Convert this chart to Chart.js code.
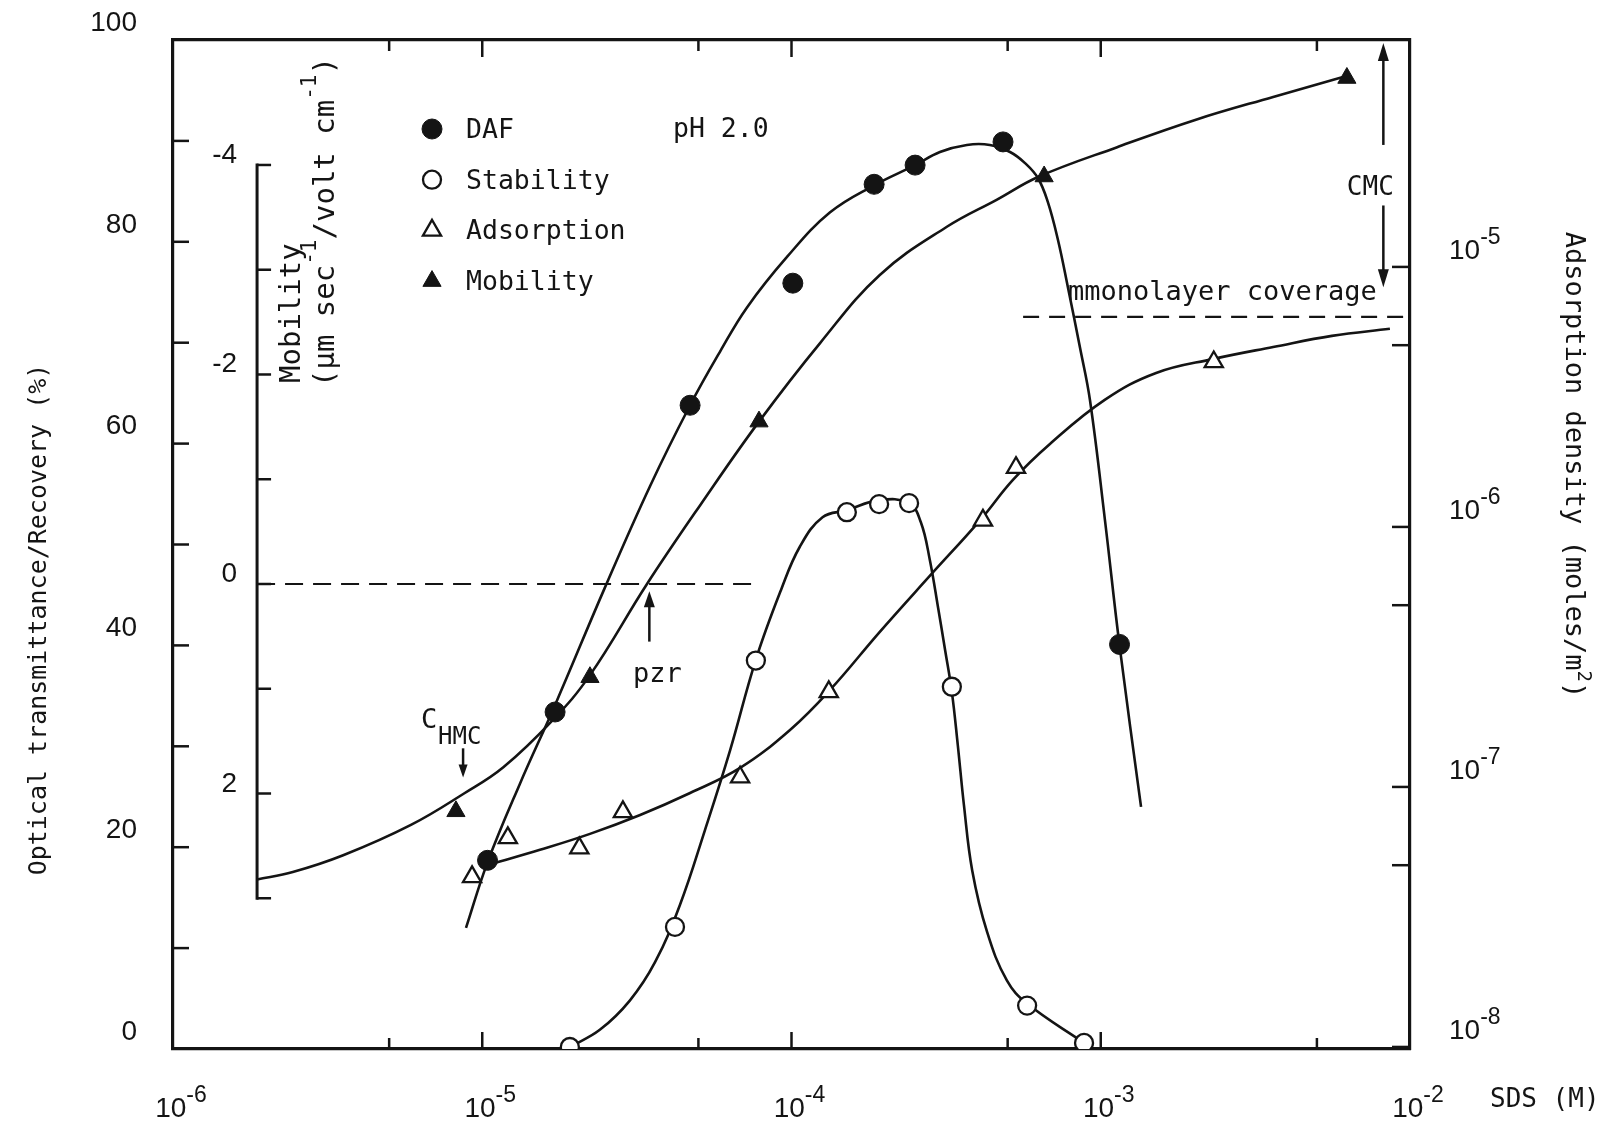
<!DOCTYPE html>
<html>
<head>
<meta charset="utf-8">
<title>SDS: DAF, stability, adsorption and mobility, pH 2.0</title>
<script src="https://cdn.jsdelivr.net/npm/chart.js@4/dist/chart.umd.min.js"></script>
<style>
  html, body { margin: 0; padding: 0; background: #fff; overflow: hidden; }
  canvas { display: block; }
</style>
</head>
<body>
<canvas id="c" width="1612" height="1126"></canvas>
<script>
// ---- measured points (x = SDS concentration, M) ----
const dafX  = [1.04e-5, 1.72e-5, 4.70e-5, 1.01e-4, 1.85e-4, 2.51e-4, 4.83e-4, 1.15e-3];
const dafY  = [18.7, 33.4, 63.8, 75.9, 85.7, 87.6, 89.9, 40.1];           // recovery, %
const stabX = [1.92e-5, 4.20e-5, 7.67e-5, 1.51e-4, 1.92e-4, 2.40e-4, 3.30e-4, 5.78e-4, 8.83e-4];
const stabY = [0.2, 12.1, 38.5, 53.2, 54.0, 54.1, 35.9, 4.3, 0.6];        // transmittance, %
const adsX  = [9.27e-6, 1.21e-5, 2.06e-5, 2.85e-5, 6.82e-5, 1.32e-4, 4.16e-4, 5.32e-4, 2.32e-3];
const adsY  = [4.51e-8, 6.37e-8, 5.82e-8, 8.02e-8, 1.09e-7, 2.32e-7, 1.06e-6, 1.69e-6, 4.31e-6]; // mol/m2
const mobX  = [8.22e-6, 2.23e-5, 7.85e-5, 6.56e-4, 6.25e-3];
const mobY  = [2.17, 0.89, -1.55, -3.89, -4.83];                          // um s-1 / V cm-1

// ---- hand-drawn trend curves ----
const dafCurveX = [8.86e-6, 1.04e-5, 1.32e-5, 1.72e-5, 2.49e-5, 3.49e-5, 4.70e-5, 5.87e-5, 7.18e-5, 9.67e-5,
                   1.33e-4, 1.85e-4, 2.51e-4, 3.02e-4, 3.69e-4, 4.38e-4, 5.09e-4, 5.69e-4, 6.27e-4, 6.75e-4,
                   7.27e-4, 7.83e-4, 8.57e-4, 9.23e-4, 1.032e-3, 1.15e-3, 1.35e-3];
const dafCurveY = [12.0, 18.5, 26.2, 34.1, 45.7, 55.8, 63.8, 69.1, 73.5, 78.5,
                   82.9, 85.6, 87.6, 88.9, 89.6, 89.6, 88.9, 87.8, 86.3, 83.9,
                   80.2, 75.5, 69.5, 64.3, 52.4, 40.0, 24.0];
const stabCurveX = [1.92e-5, 2.40e-5, 3.00e-5, 3.62e-5, 4.36e-5, 5.25e-5, 6.33e-5, 7.67e-5, 9.25e-5, 1.065e-4,
                    1.26e-4, 1.51e-4, 1.92e-4, 2.40e-4, 2.62e-4, 2.80e-4, 2.98e-4, 3.14e-4, 3.30e-4, 3.45e-4,
                    3.61e-4, 3.84e-4, 4.29e-4, 4.97e-4, 5.78e-4, 8.83e-4];
const stabCurveY = [0.2, 1.9, 4.8, 8.6, 14.3, 21.7, 29.6, 38.6, 45.5, 49.8,
                    52.7, 53.4, 54.4, 54.1, 52.2, 48.5, 43.7, 39.5, 35.4, 30.1,
                    24.2, 17.7, 11.6, 6.8, 4.5, 0.6];
const adsCurveX = [1.075e-5, 1.537e-5, 2.23e-5, 3.24e-5, 4.70e-5, 6.82e-5, 9.89e-5, 1.332e-4, 1.93e-4, 2.80e-4,
                   4.07e-4, 5.20e-4, 6.85e-4, 1.03e-3, 1.51e-3, 2.32e-3, 3.61e-3, 5.59e-3, 8.61e-3];
const adsCurveY = [5.06e-8, 5.73e-8, 6.60e-8, 7.80e-8, 9.48e-8, 1.183e-7, 1.657e-7, 2.36e-7, 3.95e-7, 6.48e-7,
                   1.06e-6, 1.517e-6, 2.085e-6, 3.08e-6, 3.91e-6, 4.43e-6, 4.92e-6, 5.43e-6, 5.78e-6];
const mobCurveX = [1.87e-6, 2.44e-6, 3.55e-6, 5.88e-6, 8.73e-6, 1.17e-5, 1.69e-5, 2.23e-5, 3.41e-5, 5.06e-5,
                   7.85e-5, 1.237e-4, 1.93e-4, 3.18e-4, 4.62e-4, 6.32e-4, 1.13e-3, 2.02e-3, 3.61e-3, 6.07e-3];
const mobCurveY = [2.82, 2.75, 2.59, 2.30, 2.00, 1.75, 1.30, 0.87, 0.0, -0.75,
                   -1.55, -2.30, -2.95, -3.41, -3.67, -3.89, -4.17, -4.43, -4.65, -4.84];

// ---- reference levels and marked concentrations ----
const mobAxisAt      = 1.87e-6;              // SDS value where the mobility axis stands
const zeroLineX      = [1.87e-6, 7.67e-5];   // zero mobility
const zeroLineY      = [0, 0];
const monolayerX     = [5.61e-4, 1e-2];
const monolayerY     = [6.42e-6, 6.42e-6];   // monolayer coverage, mol/m2
const pzrAt          = 3.47e-5;              // point of zero mobility reversal
const hmcAt          = 8.67e-6;              // C_HMC
const cmcAt          = 8.2e-3;               // CMC

// ---- axes ----
const xRange     = [1e-6, 1e-2];
const xTickVals  = [1e-6, 5e-6, 1e-5, 5e-5, 1e-4, 5e-4, 1e-3, 5e-3, 1e-2];
const pctRange   = [0, 100];
const adsRange   = [9.82e-9, 7.46e-5];
const adsTickVals  = [1e-8, 5e-8, 1e-7, 5e-7, 1e-6, 5e-6, 1e-5];
const adsLabelVals = [1e-8, 1e-7, 1e-6, 1e-5];
const mobRange   = [-5.193, 4.439];
const mobTickVals  = [-4, -3, -2, -1, 0, 1, 2, 3];
const mobLabelVals = [-4, -2, 0, 2];

const INK  = '#141414';
const SANS = '"Liberation Sans", Arial, Helvetica, sans-serif';
const MONO = '"DejaVu Sans Mono", "Liberation Mono", monospace';

const pts = (xs, ys) => xs.map((x, i) => ({ x, y: ys[i] }));
const curve = (xs, ys, axis) => ({
  data: pts(xs, ys), yAxisID: axis, showLine: true, pointRadius: 0,
  borderColor: INK, borderWidth: 2.6, tension: 0.4, fill: false, order: 1
});
const dashed = (xs, ys, axis, dash) => ({
  data: pts(xs, ys), yAxisID: axis, showLine: true, pointRadius: 0,
  borderColor: INK, borderWidth: 2.2, borderDash: dash, fill: false, order: 2
});

const datasets = [
  { label: 'DAF', data: pts(dafX, dafY), yAxisID: 'y', showLine: false, order: 0, legendRow: 0,
    pointStyle: 'circle', pointRadius: 10, pointBackgroundColor: INK, pointBorderColor: INK, pointBorderWidth: 1 },
  { label: 'Stability', data: pts(stabX, stabY), yAxisID: 'y', showLine: false, order: 0, legendRow: 1,
    pointStyle: 'circle', pointRadius: 9, pointBackgroundColor: '#fff', pointBorderColor: INK, pointBorderWidth: 2.3 },
  { label: 'Adsorption', data: pts(adsX, adsY), yAxisID: 'yAds', showLine: false, order: 0, legendRow: 2,
    pointStyle: 'triangle', pointRadius: 10.5, pointBackgroundColor: '#fff', pointBorderColor: INK, pointBorderWidth: 2.3 },
  { label: 'Mobility', data: pts(mobX, mobY), yAxisID: 'yMob', showLine: false, order: 0, legendRow: 3,
    pointStyle: 'triangle', pointRadius: 10.5, pointBackgroundColor: INK, pointBorderColor: INK, pointBorderWidth: 1 },
  curve(dafCurveX, dafCurveY, 'y'),
  curve(stabCurveX, stabCurveY, 'y'),
  curve(adsCurveX, adsCurveY, 'yAds'),
  curve(mobCurveX, mobCurveY, 'yMob'),
  dashed(zeroLineX, zeroLineY, 'yMob', [18, 10]),
  dashed(monolayerX, monolayerY, 'yAds', [16, 10])
];

// ---- drawing helpers ----
function seg(ctx, x1, y1, x2, y2) {
  ctx.beginPath(); ctx.moveTo(x1, y1); ctx.lineTo(x2, y2); ctx.stroke();
}
function isDecade(v) {
  const l = Math.log10(v); return Math.abs(l - Math.round(l)) < 1e-6;
}
function drawRich(ctx, parts, x, y, o) {
  const fontOf = p => `${(p.sup || p.sub) ? o.supSize : o.size}px ${o.family}`;
  let w = 0;
  parts.forEach(p => { ctx.font = fontOf(p); w += ctx.measureText(p.t).width; });
  let cx = o.align === 'center' ? x - w / 2 : (o.align === 'right' ? x - w : x);
  ctx.textAlign = 'left';
  ctx.textBaseline = 'alphabetic';
  parts.forEach(p => {
    ctx.font = fontOf(p);
    const dy = p.sup ? -o.raise : (p.sub ? o.drop : 0);
    ctx.fillText(p.t, cx, y + dy);
    cx += ctx.measureText(p.t).width;
  });
}
function powerLabel(v) {
  return [{ t: '10' }, { t: '-' + Math.round(-Math.log10(v)), sup: true }];
}
function arrow(ctx, x, yTail, yTip, w, h) {
  const dir = Math.sign(yTip - yTail);
  seg(ctx, x, yTail, x, yTip - dir * h * 0.6);
  ctx.beginPath();
  ctx.moveTo(x, yTip);
  ctx.lineTo(x - w / 2, yTip - dir * h);
  ctx.lineTo(x + w / 2, yTip - dir * h);
  ctx.closePath();
  ctx.fill();
}
function marker(ctx, ds, x, y) {
  const r = ds.pointRadius;
  ctx.beginPath();
  if (ds.pointStyle === 'circle') {
    ctx.arc(x, y, r, 0, Math.PI * 2);
  } else {
    const a = Math.PI * 2 / 3;
    ctx.moveTo(x, y - r);
    ctx.lineTo(x + Math.sin(a) * r, y - Math.cos(a) * r);
    ctx.lineTo(x + Math.sin(2 * a) * r, y - Math.cos(2 * a) * r);
    ctx.closePath();
  }
  ctx.fillStyle = ds.pointBackgroundColor;
  ctx.fill();
  ctx.lineWidth = ds.pointBorderWidth;
  ctx.strokeStyle = ds.pointBorderColor;
  ctx.stroke();
}

// ---- axis furniture, legend and annotations ----
const decor = {
  id: 'decor',
  beforeDatasetsDraw(chart) {
    const { ctx, chartArea: a, scales: s } = chart;
    ctx.save();
    ctx.strokeStyle = INK;
    ctx.lineWidth = 2.5;
    // inward ticks on the frame
    s.y.ticks.forEach(t => {
      const py = s.y.getPixelForValue(t.value);
      if (py > a.top + 2 && py < a.bottom - 2) seg(ctx, a.left, py, a.left + 16, py);
    });
    s.x.ticks.forEach(t => {
      const px = s.x.getPixelForValue(t.value);
      if (px < a.left + 2 || px > a.right - 2) return;
      const len = isDecade(t.value) ? 17 : 11;
      seg(ctx, px, a.bottom, px, a.bottom - len);
      seg(ctx, px, a.top, px, a.top + len);
    });
    s.yAds.ticks.forEach(t => {
      const py = s.yAds.getPixelForValue(t.value);
      if (py > a.top + 2 && py < a.bottom - 2) seg(ctx, a.right, py, a.right - 18, py);
    });
    // mobility axis inside the plot
    const mx = s.x.getPixelForValue(mobAxisAt);
    const m = s.yMob;
    ctx.lineWidth = 3;
    seg(ctx, mx, m.getPixelForValue(mobTickVals[0]) - 1.5, mx, m.getPixelForValue(mobTickVals[mobTickVals.length - 1]) + 1.5);
    ctx.lineWidth = 2.5;
    mobTickVals.forEach(v => {
      const py = m.getPixelForValue(v);
      seg(ctx, mx, py, mx + 14, py);
    });
    ctx.restore();
  },
  afterDatasetsDraw(chart) {
    const { ctx, chartArea: a, scales: s } = chart;
    ctx.save();
    ctx.fillStyle = INK;
    ctx.strokeStyle = INK;

    // x tick labels
    s.x.ticks.filter(t => isDecade(t.value)).forEach(t => {
      drawRich(ctx, powerLabel(t.value), s.x.getPixelForValue(t.value) + 8, a.bottom + 68,
        { family: SANS, size: 28, supSize: 23, raise: 15, align: 'center' });
    });
    // adsorption tick labels
    adsLabelVals.forEach(v => {
      drawRich(ctx, powerLabel(v), a.right + 39, s.yAds.getPixelForValue(v) - 8,
        { family: SANS, size: 28, supSize: 23, raise: 15, align: 'left' });
    });
    // mobility tick labels
    const mx = s.x.getPixelForValue(mobAxisAt);
    ctx.font = `28px ${SANS}`;
    ctx.textAlign = 'right';
    ctx.textBaseline = 'alphabetic';
    mobLabelVals.forEach(v => {
      ctx.fillText(String(v), mx - 20, s.yMob.getPixelForValue(v) - 2);
    });

    // axis titles
    ctx.save();
    ctx.translate(a.left - 127, (a.top + a.bottom) / 2 + 75);
    ctx.rotate(-Math.PI / 2);
    drawRich(ctx, [{ t: 'Optical transmittance/Recovery (%)' }], 0, 0,
      { family: MONO, size: 25, supSize: 18, raise: 10, align: 'center' });
    ctx.restore();

    ctx.save();
    ctx.translate(a.right + 156, a.top + 425);
    ctx.rotate(Math.PI / 2);
    drawRich(ctx, [{ t: 'Adsorption density (moles/m' }, { t: '2', sup: true }, { t: ')' }], 0, 0,
      { family: MONO, size: 27, supSize: 19, raise: 12, align: 'center' });
    ctx.restore();

    ctx.save();
    ctx.translate(mx + 43, a.top + 343);
    ctx.rotate(-Math.PI / 2);
    drawRich(ctx, [{ t: 'Mobility' }], 0, 0, { family: MONO, size: 29, supSize: 21, raise: 18, align: 'left' });
    ctx.restore();
    ctx.save();
    ctx.translate(mx + 77, a.top + 347);
    ctx.rotate(-Math.PI / 2);
    drawRich(ctx, [{ t: '(\u03bcm sec' }, { t: '-1', sup: true }, { t: '/volt cm' }, { t: '-1', sup: true }, { t: ')' }], 0, 0,
      { family: MONO, size: 29, supSize: 21, raise: 18, align: 'left' });
    ctx.restore();

    drawRich(ctx, [{ t: 'SDS (M)' }], a.right + 80, a.bottom + 58,
      { family: MONO, size: 26, supSize: 18, raise: 10, align: 'left' });

    // legend
    chart.data.datasets.filter(d => d.legendRow !== undefined).forEach(d => {
      const base = a.top + 98 + d.legendRow * 50.7;
      marker(ctx, d, a.left + 259, base - 9);
      ctx.fillStyle = INK;
      drawRich(ctx, [{ t: d.label }], a.left + 293, base,
        { family: MONO, size: 26.5, supSize: 18, raise: 10, align: 'left' });
    });
    drawRich(ctx, [{ t: 'pH 2.0' }], a.left + 500, a.top + 97,
      { family: MONO, size: 26.5, supSize: 18, raise: 10, align: 'left' });

    // monolayer coverage label
    drawRich(ctx, [{ t: 'mmonolayer coverage' }], s.x.getPixelForValue(7.83e-4), s.yAds.getPixelForValue(monolayerY[0]) - 17,
      { family: MONO, size: 27, supSize: 18, raise: 10, align: 'left' });

    // arrows
    ctx.lineWidth = 2.5;
    ctx.fillStyle = INK;
    const pzrX = s.x.getPixelForValue(pzrAt);
    arrow(ctx, pzrX, s.yMob.getPixelForValue(0.55), s.yMob.getPixelForValue(0.07), 11, 16);
    drawRich(ctx, [{ t: 'pzr' }], pzrX + 8, s.yMob.getPixelForValue(0.94),
      { family: MONO, size: 27, supSize: 18, raise: 10, align: 'center' });

    const hmcX = s.x.getPixelForValue(hmcAt);
    const hmcTail = s.y.getPixelForValue(29.8);
    arrow(ctx, hmcX, hmcTail, s.y.getPixelForValue(26.9), 9, 13);
    drawRich(ctx, [{ t: 'C' }], hmcX - 42, hmcTail - 20,
      { family: MONO, size: 27, supSize: 18, raise: 10, align: 'left' });
    drawRich(ctx, [{ t: 'HMC' }], hmcX - 25, hmcTail - 4,
      { family: MONO, size: 24, supSize: 18, raise: 10, align: 'left' });

    const cmcX = s.x.getPixelForValue(cmcAt);
    arrow(ctx, cmcX, s.y.getPixelForValue(89.6), s.y.getPixelForValue(99.7), 11, 18);
    arrow(ctx, cmcX, s.y.getPixelForValue(83.6), s.y.getPixelForValue(75.5), 11, 18);
    drawRich(ctx, [{ t: 'CMC' }], cmcX - 13, s.y.getPixelForValue(84.6),
      { family: MONO, size: 26, supSize: 18, raise: 10, align: 'center' });

    ctx.restore();
  }
};

const frame = { display: true, color: INK, width: 3.2 };
const quietGrid = { display: false, drawTicks: false };
const fixPad = sc => { sc.paddingTop = 0; sc.paddingBottom = 0; sc.paddingLeft = 0; sc.paddingRight = 0; };

new Chart(document.getElementById('c'), {
  type: 'scatter',
  data: { datasets },
  options: {
    responsive: false,
    animation: false,
    events: [],
    layout: { padding: 0 },
    plugins: { legend: { display: false }, tooltip: { enabled: false } },
    scales: {
      x: {
        type: 'logarithmic', position: 'bottom', min: xRange[0], max: xRange[1], bounds: 'data',
        grid: quietGrid, border: frame, ticks: { display: false },
        afterBuildTicks: sc => { sc.ticks = xTickVals.map(value => ({ value })); },
        afterFit: sc => { sc.height = 77; fixPad(sc); }
      },
      xTop: {
        type: 'logarithmic', position: 'top', min: xRange[0], max: xRange[1], bounds: 'data',
        grid: quietGrid, border: frame, ticks: { display: false },
        afterBuildTicks: sc => { sc.ticks = xTickVals.map(value => ({ value })); },
        afterFit: sc => { sc.height = 40; fixPad(sc); }
      },
      y: {
        type: 'linear', position: 'left', min: pctRange[0], max: pctRange[1], bounds: 'data',
        grid: quietGrid, border: frame,
        ticks: {
          stepSize: 10, autoSkip: false, padding: 36, labelOffset: -17, color: INK,
          font: { family: SANS, size: 28 },
          callback: v => (v % 20 === 0 ? String(v) : '')
        },
        afterFit: sc => { sc.width = 173; fixPad(sc); }
      },
      yAds: {
        type: 'logarithmic', position: 'right', min: adsRange[0], max: adsRange[1], bounds: 'data',
        grid: quietGrid, border: frame, ticks: { display: false },
        afterBuildTicks: sc => { sc.ticks = adsTickVals.map(value => ({ value })); },
        afterFit: sc => { sc.width = 202; fixPad(sc); }
      },
      yMob: {
        type: 'linear', position: 'left', display: false, reverse: true,
        min: mobRange[0], max: mobRange[1], bounds: 'data',
        afterBuildTicks: sc => { sc.ticks = mobTickVals.map(value => ({ value })); }
      }
    }
  },
  plugins: [decor]
});
</script>
</body>
</html>
